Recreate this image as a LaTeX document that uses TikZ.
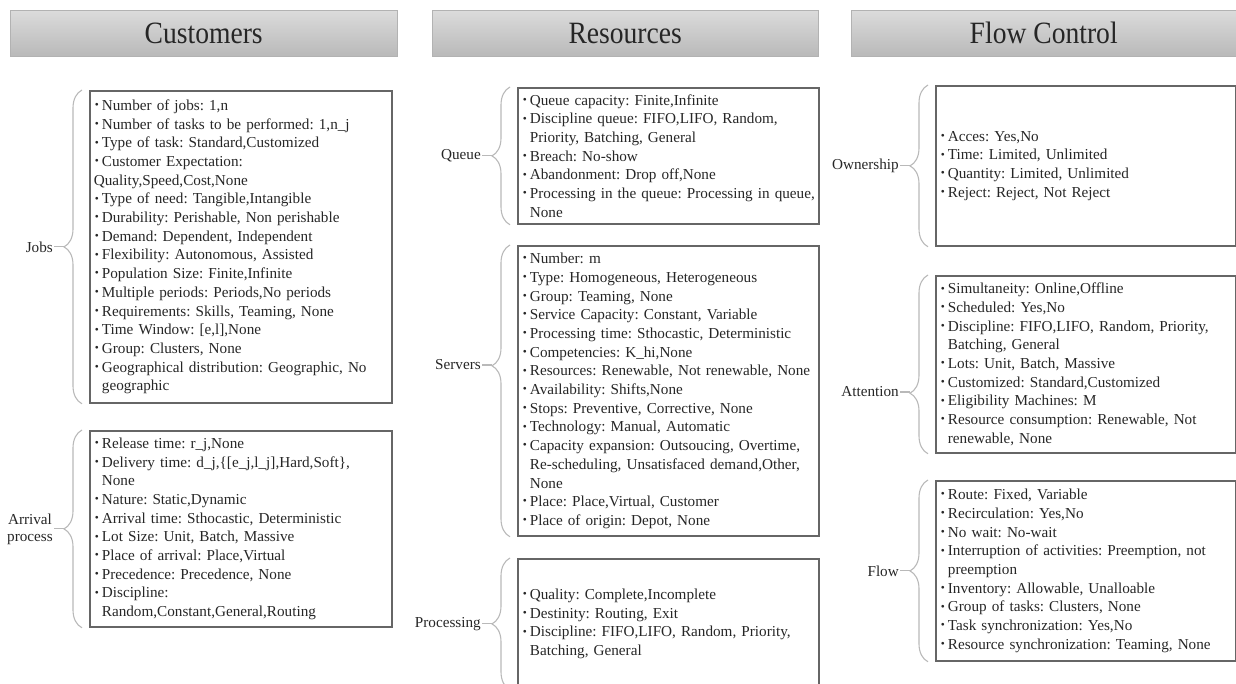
\documentclass[tikz,border=0pt]{standalone}
\usepackage{fontspec}
\setmainfont{Liberation Serif}
\newfontfamily\titrefont[FakeStretch=0.89]{Liberation Serif}
\usepackage{graphicx}
\usetikzlibrary{positioning,decorations.pathreplacing}
\frenchspacing
\newcommand{\bu}{\makebox[7pt][l]{\raisebox{0.25ex}{\scalebox{0.75}{\textbullet}}}}
\newcommand{\nl}{\\\hspace*{7pt}}
\tikzstyle{titre}=[draw=gray!60, top color=gray!28, bottom color=gray!55, minimum height=46pt, anchor=north west, font=\titrefont\fontsize{31}{33}\selectfont, text=black!85]
\tikzstyle{liste}=[draw=black!60, line width=1.8pt, anchor=north west, inner xsep=5pt, inner ysep=2pt, align=left, font=\fontsize{15.2}{18.7}\selectfont, text=black!85]
\tikzstyle{accolade}=[draw=gray!55, line width=1.1pt, decorate, decoration={brace, amplitude=18pt}]
\tikzstyle{etiquette}=[font=\fontsize{15.2}{17}\selectfont, text=black!85, inner sep=1pt, align=center]
\tikzstyle{tiret}=[draw=gray!55, line width=1.1pt]

\begin{document}
\begin{tikzpicture}[x=1pt,y=-1pt]
    \useasboundingbox (0,0) rectangle (1236,684);
    % titres
    \node[titre, minimum width=387pt] (cust) at (10,10) {Customers};
    \node[titre, minimum width=386pt] (res) at (432,10) {Resources};
    \node[titre, minimum width=385pt] (flow) at (851,10) {Flow Control};
    % customers
    \node[liste, text width=292pt, minimum height=312pt] (jobs) at (89,90) {\bu Number of jobs: 1,n\\\bu Number of tasks to be performed: 1,n\_j\\\bu Type of task: Standard,Customized\\\bu Customer Expectation:\\\hspace*{-1pt}Quality,Speed,Cost,None\\\bu Type of need: Tangible,Intangible\\\bu Durability: Perishable, Non perishable\\\bu Demand: Dependent, Independent\\\bu Flexibility: Autonomous, Assisted\\\bu Population Size: Finite,Infinite\\\bu Multiple periods: Periods,No periods\\\bu Requirements: Skills, Teaming, None\\\bu Time Window: [e,l],None\\\bu Group: Clusters, None\\\bu Geographical distribution: Geographic, No\nl geographic};
    \node[liste, text width=292pt, minimum height=196pt] (arrival) at (89,430) {\bu Release time: r\_j,None\\\bu Delivery time: d\_j,\{[e\_j,l\_j],Hard,Soft\},\nl None\\\bu Nature: Static,Dynamic\\\bu Arrival time: Sthocastic, Deterministic\\\bu Lot Size: Unit, Batch, Massive\\\bu Place of arrival: Place,Virtual\\\bu Precedence: Precedence, None\\\bu Discipline:\nl Random,Constant,General,Routing};
    % resources
    \node[liste, text width=291pt, minimum height=136pt] (queue) at (517,87) {\bu Queue capacity: Finite,Infinite\\\bu Discipline queue: FIFO,LIFO, Random,\nl Priority, Batching, General\\\bu Breach: No-show\\\bu Abandonment: Drop off,None\\\bu \mbox{Processing in the queue: Processing in queue,}\nl None};
    \node[liste, text width=291pt, minimum height=290pt] (servers) at (517,245) {\bu Number: m\\\bu Type: Homogeneous, Heterogeneous\\\bu Group: Teaming, None\\\bu Service Capacity: Constant, Variable\\\bu Processing time: Sthocastic, Deterministic\\\bu Competencies: K\_hi,None\\\bu Resources: Renewable, Not renewable, None\\\bu Availability: Shifts,None\\\bu Stops: Preventive, Corrective, None\\\bu Technology: Manual, Automatic\\\bu Capacity expansion: Outsoucing, Overtime,\nl Re-scheduling, Unsatisfaced demand,Other,\nl None\\\bu Place: Place,Virtual, Customer\\\bu Place of origin: Depot, None};
    \node[liste, text width=291pt, minimum height=130pt] (proc) at (517,558) {\bu Quality: Complete,Incomplete\\\bu Destinity: Routing, Exit\\\bu Discipline: FIFO,LIFO, Random, Priority,\nl Batching, General};
    % flow control
    \node[liste, text width=290pt, minimum height=160pt] (owner) at (935,85) {\bu Acces: Yes,No\\\bu Time: Limited, Unlimited\\\bu Quantity: Limited, Unlimited\\\bu Reject: Reject, Not Reject};
    \node[liste, text width=290pt, minimum height=177pt] (attent) at (935,275) {\bu Simultaneity: Online,Offline\\\bu Scheduled: Yes,No\\\bu Discipline: FIFO,LIFO, Random, Priority,\nl Batching, General\\\bu Lots: Unit, Batch, Massive\\\bu Customized: Standard,Customized\\\bu Eligibility Machines: M\\\bu Resource consumption: Renewable, Not\nl renewable, None};
    \node[liste, text width=290pt, minimum height=180pt] (flowbox) at (935,480) {\bu Route: Fixed, Variable\\\bu Recirculation: Yes,No\\\bu No wait: No-wait\\\bu Interruption of activities: Preemption, not\nl preemption\\\bu Inventory: Allowable, Unalloable\\\bu Group of tasks: Clusters, None\\\bu Task synchronization: Yes,No\\\bu Resource synchronization: Teaming, None};
    % accolades
    \foreach \bx/\asp in {jobs/0.5, arrival/0.5, queue/0.5, servers/0.586, proc/0.5, owner/0.5, attent/0.339, flowbox/0.5}
        \draw[accolade, decoration={aspect=\asp}] ([xshift=-7pt]\bx.south west) -- ([xshift=-7pt]\bx.north west);
    % pointes
    \coordinate (jobstip) at ([xshift=-25pt]jobs.west);
    \coordinate (arrivaltip) at ([xshift=-25pt]arrival.west);
    \coordinate (queuetip) at ([xshift=-25pt]queue.west);
    \coordinate (serverstip) at ([xshift=-25pt,yshift=-120pt]servers.north west);
    \coordinate (proctip) at ([xshift=-25pt]proc.west);
    \coordinate (ownertip) at ([xshift=-25pt]owner.west);
    \coordinate (attenttip) at ([xshift=-25pt,yshift=-117pt]attent.north west);
    \coordinate (flowboxtip) at ([xshift=-25pt]flowbox.west);
    % etiquettes
    \foreach \bx/\name in {jobs/Jobs, arrival/{Arrival\\process}, queue/Queue, servers/Servers, proc/Processing, owner/Ownership, attent/Attention, flowbox/Flow}{
        \node[etiquette, left=10pt of \bx tip] (\bx lbl) {\name};
        \path[tiret] (\bx lbl) -- (\bx tip);
    }
\end{tikzpicture}
\end{document}
